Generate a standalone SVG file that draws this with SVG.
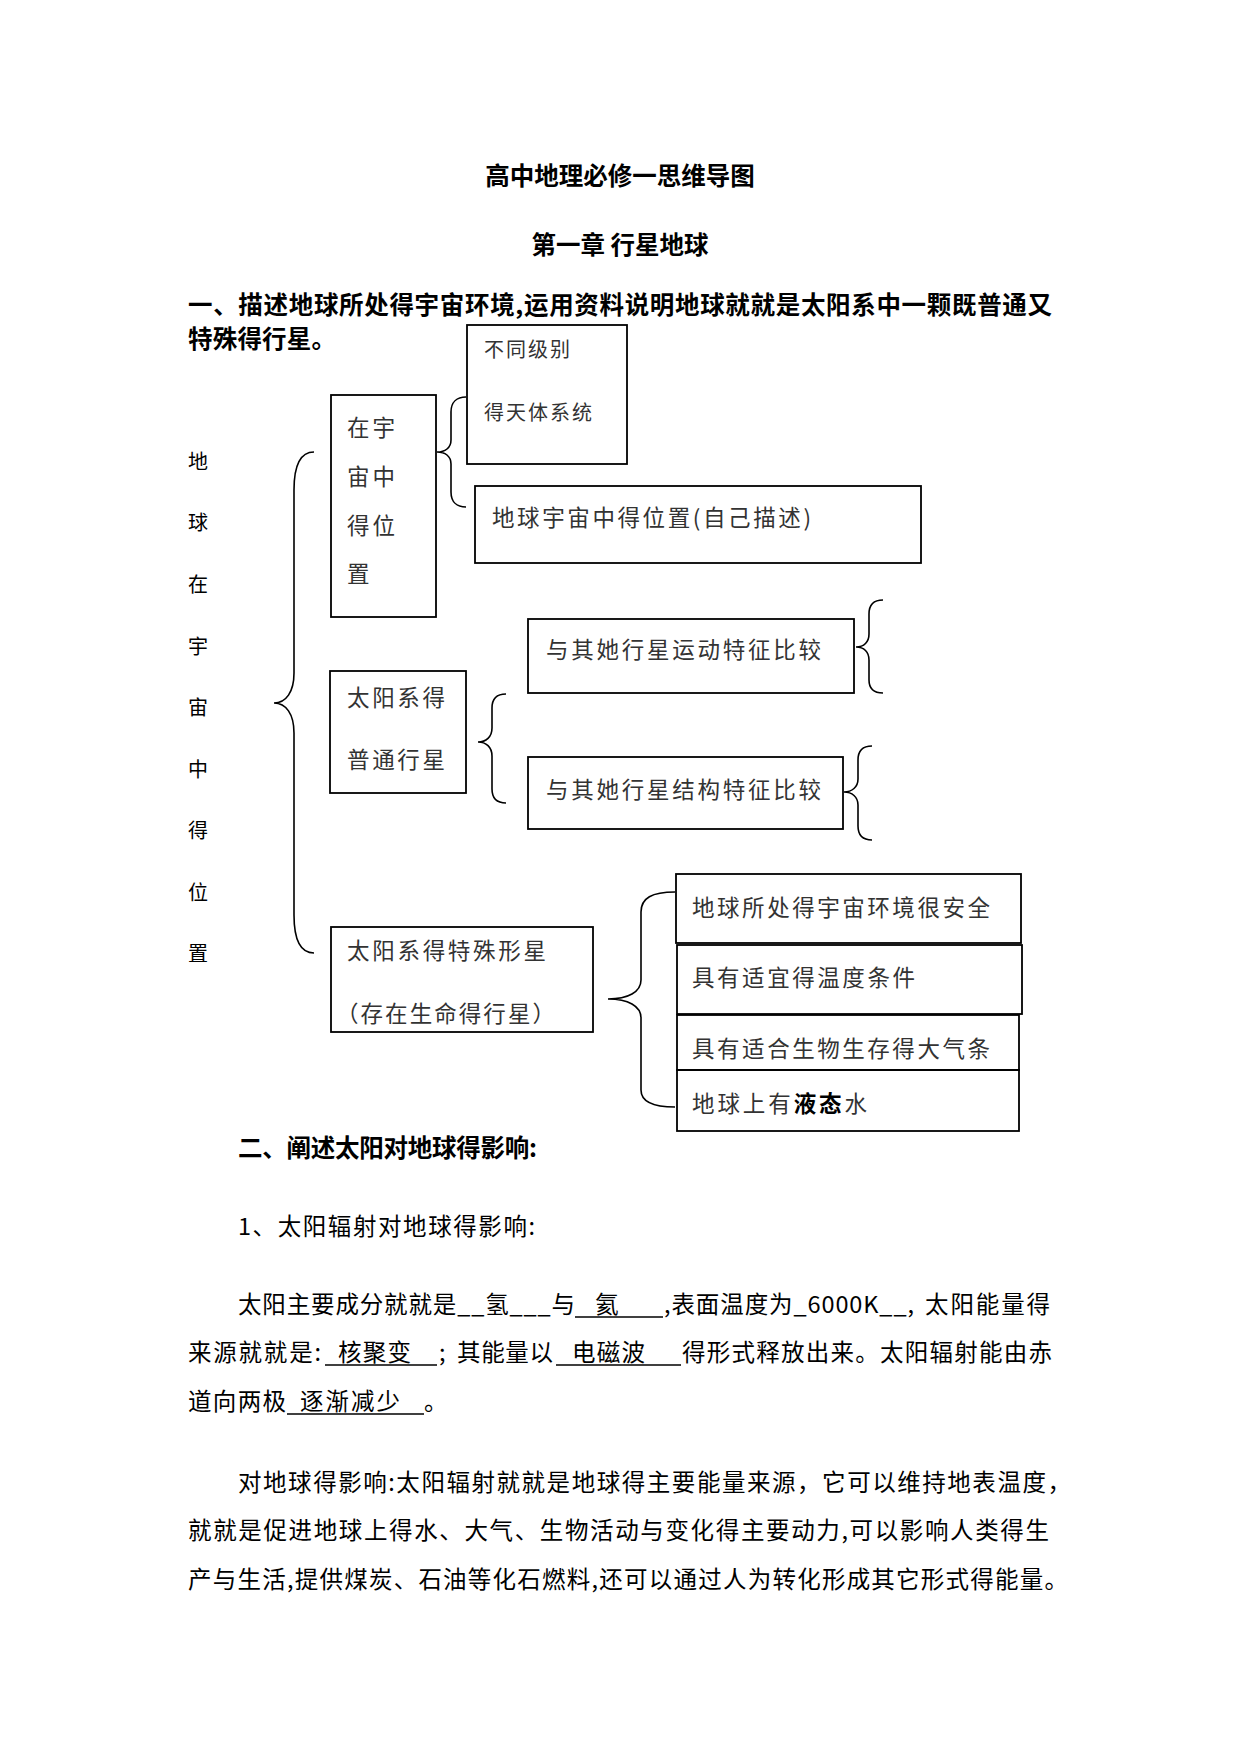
<svg xmlns="http://www.w3.org/2000/svg" width="1241" height="1754" viewBox="0 0 1241 1754">
<style>
text{font-family:"Noto Sans CJK SC","Noto Sans",sans-serif;fill:#000}
.h{font-size:24.5px;font-weight:700}
.b{font-size:23.5px}
.bx{font-size:22.5px;fill:#333}
.sm{font-size:20px;fill:#333}
.v{font-size:20px}
.box{fill:none;stroke:#000;stroke-width:1.8}
.br{fill:none;stroke:#000;stroke-width:1.6}
.ul{stroke:#000;stroke-width:1.4}
</style>
<rect width="1241" height="1754" fill="#fff"/>
<g id="title">
<text class="h" x="620" y="185" text-anchor="middle" font-size="26">高中地理必修一思维导图</text>
<text class="h" x="620" y="254" text-anchor="middle" font-size="26">第一章 行星地球</text>
<text class="h" x="188" y="314" textLength="864" lengthAdjust="spacing">一、描述地球所处得宇宙环境,运用资料说明地球就就是太阳系中一颗既普通又</text>
<text class="h" x="188" y="348" textLength="148" lengthAdjust="spacing">特殊得行星。</text>
</g>
<g id="root">
<text class="v" x="198" y="469" text-anchor="middle">地</text>
<text class="v" x="198" y="530" text-anchor="middle">球</text>
<text class="v" x="198" y="592" text-anchor="middle">在</text>
<text class="v" x="198" y="654" text-anchor="middle">宇</text>
<text class="v" x="198" y="715" text-anchor="middle">宙</text>
<text class="v" x="198" y="777" text-anchor="middle">中</text>
<text class="v" x="198" y="838" text-anchor="middle">得</text>
<text class="v" x="198" y="900" text-anchor="middle">位</text>
<text class="v" x="198" y="961" text-anchor="middle">置</text>
</g>
<g id="n-position">
<rect class="box" x="331" y="395" width="105" height="222"/>
<text class="bx" x="347" y="436" textLength="48" lengthAdjust="spacing">在宇</text>
<text class="bx" x="347" y="485" textLength="48" lengthAdjust="spacing">宙中</text>
<text class="bx" x="347" y="534" textLength="48" lengthAdjust="spacing">得位</text>
<text class="bx" x="347" y="582">置</text>
</g>
<g id="n-levels">
<rect class="box" x="467" y="325" width="160" height="139"/>
<text class="sm" x="484" y="357" textLength="86" lengthAdjust="spacing">不同级别</text>
<text class="sm" x="484" y="420" textLength="108" lengthAdjust="spacing">得天体系统</text>
</g>
<g id="n-earthpos">
<rect class="box" x="475" y="486" width="446" height="77"/>
<text class="bx" x="492" y="526" textLength="319" lengthAdjust="spacing">地球宇宙中得位置(自己描述)</text>
</g>
<g id="n-motion">
<rect class="box" x="528" y="619" width="326" height="74"/>
<text class="bx" x="546" y="658" textLength="275" lengthAdjust="spacing">与其她行星运动特征比较</text>
</g>
<g id="n-ordinary">
<rect class="box" x="330" y="671" width="136" height="122"/>
<text class="bx" x="347" y="706" textLength="98" lengthAdjust="spacing">太阳系得</text>
<text class="bx" x="347" y="768" textLength="98" lengthAdjust="spacing">普通行星</text>
</g>
<g id="n-structure">
<rect class="box" x="528" y="757" width="315" height="72"/>
<text class="bx" x="546" y="798" textLength="275" lengthAdjust="spacing">与其她行星结构特征比较</text>
</g>
<g id="n-special">
<rect class="box" x="331" y="927" width="262" height="105"/>
<text class="bx" x="347" y="959" textLength="199" lengthAdjust="spacing">太阳系得特殊形星</text>
<text class="bx" x="336" y="1022" textLength="219" lengthAdjust="spacing">（存在生命得行星）</text>
</g>
<g id="n-safe">
<rect class="box" x="676" y="874" width="345" height="69"/>
<text class="bx" x="692" y="916" textLength="298" lengthAdjust="spacing">地球所处得宇宙环境很安全</text>
</g>
<g id="n-temp">
<rect class="box" x="677" y="945" width="345" height="69"/>
<text class="bx" x="692" y="986" textLength="223" lengthAdjust="spacing">具有适宜得温度条件</text>
</g>
<g id="n-air">
<rect class="box" x="677" y="1015" width="342" height="55"/>
<text class="bx" x="692" y="1057" textLength="298" lengthAdjust="spacing">具有适合生物生存得大气条</text>
</g>
<g id="n-water">
<rect class="box" x="677" y="1070" width="342" height="61"/>
<text class="bx" x="692" y="1112" textLength="175" lengthAdjust="spacing">地球上有<tspan font-weight="700" fill="#000">液态</tspan>水</text>
</g>
<g id="connectors">
<path class="br" d="M314,452 C301,452 294,465 294,490 L294,673 C294,692 286,703 274,703 C286,703 294,714 294,733 L294,915 C294,940 301,953 314,953"/>
<path class="br" d="M466,397 C457,397 451,402 451,412 L451,440 C451,448 445,452 437,452 C445,452 451,456 451,464 L451,492 C451,502 457,507 466,507"/>
<path class="br" d="M506,694 C497,694 492,699 492,708 L492,728 C492,737 486,742 478,742 C486,742 492,747 492,756 L492,789 C492,798 497,803 506,803"/>
<path class="br" d="M883,600 C874,600 869,605 869,614 L869,634 C869,642 864,647 856,647 C864,647 869,652 869,660 L869,680 C869,689 874,693 883,693"/>
<path class="br" d="M872,746 C863,746 858,751 858,760 L858,779 C858,787 852,792 844,792 C852,792 858,797 858,805 L858,826 C858,835 863,840 872,840"/>
<path class="br" d="M675,892 C652,892 641,898 641,912 L641,980 C641,992 628,999 608,999 C628,999 641,1006 641,1018 L641,1090 C641,1101 652,1107 675,1107"/>
</g>
<g id="section2">
<text class="h" x="238" y="1157" textLength="299" lengthAdjust="spacing">二、阐述太阳对地球得影响:</text>
<text class="b" x="238" y="1235" textLength="297" lengthAdjust="spacing">1、太阳辐射对地球得影响:</text>
<text class="b" x="238" y="1313" textLength="337" lengthAdjust="spacing">太阳主要成分就就是__氢___与</text>
<line class="ul" x1="575" y1="1317" x2="663" y2="1317"/>
<text class="b" x="595" y="1313">氦</text>
<text class="b" x="664" y="1313" textLength="250" lengthAdjust="spacing">,表面温度为_6000K__,</text>
<text class="b" x="925" y="1313" textLength="125" lengthAdjust="spacing">太阳能量得</text>
<text class="b" x="188" y="1361" textLength="133" lengthAdjust="spacing">来源就就是:</text>
<line class="ul" x1="325" y1="1365" x2="437" y2="1365"/>
<text class="b" x="338" y="1361" textLength="73" lengthAdjust="spacing">核聚变</text>
<text class="b" x="439" y="1361">;</text>
<text class="b" x="457" y="1361" textLength="96" lengthAdjust="spacing">其能量以</text>
<line class="ul" x1="556" y1="1365" x2="681" y2="1365"/>
<text class="b" x="572" y="1361" textLength="73" lengthAdjust="spacing">电磁波</text>
<text class="b" x="682" y="1361" textLength="370" lengthAdjust="spacing">得形式释放出来。太阳辐射能由赤</text>
<text class="b" x="188" y="1410" textLength="98" lengthAdjust="spacing">道向两极</text>
<line class="ul" x1="287" y1="1414" x2="424" y2="1414"/>
<text class="b" x="300" y="1410" textLength="100" lengthAdjust="spacing">逐渐减少</text>
<text class="b" x="424" y="1410">。</text>
<text class="b" x="238" y="1491" textLength="833" lengthAdjust="spacing">对地球得影响:太阳辐射就就是地球得主要能量来源，它可以维持地表温度，</text>
<text class="b" x="188" y="1539" textLength="861" lengthAdjust="spacing">就就是促进地球上得水、大气、生物活动与变化得主要动力,可以影响人类得生</text>
<text class="b" x="188" y="1588" textLength="880" lengthAdjust="spacing">产与生活,提供煤炭、石油等化石燃料,还可以通过人为转化形成其它形式得能量。</text>
</g>
</svg>
